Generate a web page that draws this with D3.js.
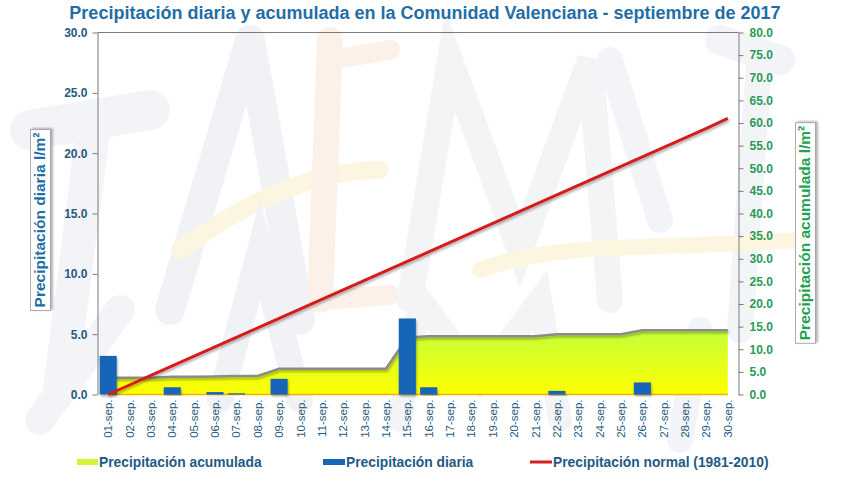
<!DOCTYPE html>
<html><head><meta charset="utf-8">
<script src="https://cdn.jsdelivr.net/npm/d3@7"></script>
<style>
body{margin:0;background:#fff;}
svg{display:block;font-family:"Liberation Sans",Arial,sans-serif;}
</style></head>
<body>
<svg id="c" width="856" height="480"></svg>
<script>
const days = ["01-sep.","02-sep.","03-sep.","04-sep.","05-sep.","06-sep.","07-sep.","08-sep.","09-sep.","10-sep.",
"11-sep.","12-sep.","13-sep.","14-sep.","15-sep.","16-sep.","17-sep.","18-sep.","19-sep.","20-sep.",
"21-sep.","22-sep.","23-sep.","24-sep.","25-sep.","26-sep.","27-sep.","28-sep.","29-sep.","30-sep."];
const daily = [3.2,0,0,0.6,0,0.2,0.1,0,1.3,0,0,0,0,0,6.3,0.6,0,0,0,0,0,0.3,0,0,0,1.0,0,0,0,0];
const accum = [3.7,3.7,3.7,3.9,3.9,4.0,4.1,4.1,5.7,5.7,5.7,5.7,5.7,5.7,12.6,12.9,12.9,12.9,12.9,12.9,12.9,13.3,13.3,13.3,13.3,14.2,14.2,14.2,14.2,14.2];
const normal = [0,2.1,4.2,6.3,8.4,10.5,12.6,14.7,16.8,18.9,21.0,23.1,25.2,27.3,29.4,31.5,33.6,35.7,37.8,39.9,42.0,44.1,46.2,48.3,50.4,52.5,54.6,56.7,58.8,61.0];
const leftTicks = [0,5,10,15,20,25,30];
const rightTicks = [0,5,10,15,20,25,30,35,40,45,50,55,60,65,70,75,80];

const svg = d3.select("#c");
const L = 97.5, R = 738.5, T = 32.5, B = 394.5;

// faint watermark strokes (logo background)
const wm = svg.append("g").attr("fill","none").attr("stroke-linecap","round").attr("opacity",0.6);
const wmStrokes = [
  ["M30,130 L150,110","#eceef2",40],["M95,115 L60,390","#eceef2",34],
  ["M170,310 L250,40","#e8ebf0",30],["M250,40 L300,320","#e8ebf0",30],
  ["M180,250 C260,190 330,170 380,170","#fbf1cc",18],
  ["M330,40 L320,300","#fae8da",26],["M330,60 L390,50","#fae8da",20],["M325,300 L390,295","#fae8da",20],
  ["M410,300 L450,60 L520,250 L590,60 L610,300","#eaedf1",26],
  ["M610,60 L660,220","#eceef2",26],["M720,40 L780,60","#eceef2",30],["M760,50 L740,330","#eceef2",26],
  ["M40,420 L120,310","#eceef2",30],["M220,400 L260,250 L300,400","#e8ebf0",26],
  ["M400,420 L420,300 L480,380 L540,300 L560,420","#eaedf1",24],["M700,330 L680,440","#eceef2",26],
  ["M480,270 C560,240 660,250 800,240","#fbf1cc",16]
];
wm.selectAll("path").data(wmStrokes).join("path")
  .attr("d",d=>d[0]).attr("stroke",d=>d[1]).attr("stroke-width",d=>d[2]);

const defs = svg.append("defs");
const grad = defs.append("linearGradient").attr("id","g").attr("x1",0).attr("y1",0).attr("x2",0).attr("y2",1);
grad.append("stop").attr("offset","0%").attr("stop-color","#c4ff3a");
grad.append("stop").attr("offset","100%").attr("stop-color","#ffff00");
const sh = defs.append("filter").attr("id","sh").attr("x","-10%").attr("y","-10%").attr("width","130%").attr("height","130%");
sh.append("feDropShadow").attr("dx",1).attr("dy",2).attr("stdDeviation",1).attr("flood-color","#000").attr("flood-opacity",0.3);

const x = d3.scaleBand().domain(days).range([L,R]).paddingInner(0.2).paddingOuter(0.1);
const xc = d => x(d) + x.bandwidth()/2;
const yL = d3.scaleLinear().domain([0,30]).range([B,T]);
const yR = d3.scaleLinear().domain([0,80]).range([B,T]);

// area accumulated
const area = d3.area().x((d,i)=>xc(days[i])).y0(yR(0)).y1(d=>yR(d));
svg.append("path").datum(accum).attr("d",area).attr("fill","url(#g)");
const line = d3.line().x((d,i)=>xc(days[i])).y(d=>yR(d));
svg.append("path").datum(accum).attr("d",line).attr("fill","none").attr("stroke","#8c8c86").attr("stroke-width",2.5).attr("filter","url(#sh)");
svg.append("line").attr("x1",xc(days[0])).attr("x2",xc(days[29])).attr("y1",B).attr("y2",B).attr("stroke","#f0b400").attr("stroke-width",1.5);

// bars
svg.append("g").selectAll("rect").data(daily).join("rect")
  .attr("x",(d,i)=>x(days[i])).attr("width",x.bandwidth())
  .attr("y",d=>yL(d)).attr("height",d=>B-yL(d))
  .attr("fill","#1665b8").attr("filter","url(#sh)");

// normal line
svg.append("path").datum(normal).attr("d",line).attr("fill","none").attr("stroke","#d41f1f").attr("stroke-width",3).attr("filter","url(#sh)");

// axes
svg.append("line").attr("x1",L).attr("x2",R).attr("y1",T).attr("y2",T).attr("stroke","#7a7a7a");
const ax = svg.append("g").attr("transform",`translate(${L},0)`)
  .call(d3.axisLeft(yL).tickValues(leftTicks).tickFormat(d3.format(".1f")).tickSize(5).tickSizeOuter(0));
ax.select(".domain").attr("stroke","#7a7a7a");
ax.selectAll("line").attr("stroke","#7a7a7a");
ax.selectAll("text").attr("fill","#245b80").attr("font-size",12).attr("font-weight","bold").attr("x",-10).attr("font-family","Liberation Sans, Arial");

const ar = svg.append("g").attr("transform",`translate(${R},0)`)
  .call(d3.axisRight(yR).tickValues(rightTicks).tickFormat(d3.format(".1f")).tickSize(5).tickSizeOuter(0));
ar.select(".domain").attr("stroke","#7a7a7a");
ar.selectAll("line").attr("stroke","#7a7a7a");
ar.selectAll("text").attr("fill","#2a9a58").attr("font-size",12).attr("font-weight","bold").attr("x",11).attr("font-family","Liberation Sans, Arial");

const axb = svg.append("g").attr("transform",`translate(0,${B})`)
  .call(d3.axisBottom(x).tickSize(0));
axb.select(".domain").remove();
axb.selectAll("text").attr("fill","#245b80").attr("font-size",11.5).attr("font-family","Liberation Sans, Arial")
  .attr("transform","rotate(-90)").attr("text-anchor","end").attr("x",-5).attr("y",0).attr("dy","0.35em");

// title
svg.append("text").attr("x",425).attr("y",19).attr("text-anchor","middle")
  .attr("font-size",18).attr("font-weight","bold").attr("fill","#1f6ea6")
  .text("Precipitación diaria y acumulada en la Comunidad Valenciana - septiembre de 2017");

// axis titles with boxes
function vtitle(cx, cy, txt, color, fs){
  const g = svg.append("g").attr("transform",`translate(${cx},${cy}) rotate(-90)`);
  const t = g.append("text").attr("text-anchor","middle").attr("dy","0.35em")
    .attr("font-size",fs).attr("font-weight","bold").attr("fill",color).text(txt);
  const bb = t.node().getBBox();
  g.insert("rect","text").attr("x",bb.x-3).attr("y",bb.y-1).attr("width",bb.width+6).attr("height",bb.height+3)
    .attr("fill","#fff").attr("stroke","#9a9a9a").attr("stroke-width",0.8).attr("filter","url(#sh)");
}
vtitle(40, 220, "Precipitación diaria l/m²", "#1f6ea6", 15.5);
vtitle(805, 233, "Precipitación acumulada l/m²", "#22a24e", 15.5);

// legend
const lg = svg.append("g").attr("font-size",13.8).attr("font-weight","bold").attr("fill","#1f5a86");
lg.append("rect").attr("x",77).attr("y",459).attr("width",21).attr("height",6).attr("fill","#d2f53a");
lg.append("text").attr("x",99).attr("y",467).text("Precipitación acumulada");
lg.append("rect").attr("x",323).attr("y",459).attr("width",22).attr("height",6).attr("fill","#1665b8");
lg.append("text").attr("x",346).attr("y",467).text("Precipitación diaria");
lg.append("rect").attr("x",530).attr("y",460.5).attr("width",22).attr("height",3).attr("fill","#d41f1f");
lg.append("text").attr("x",553).attr("y",467).text("Precipitación normal (1981-2010)");
</script>
</body></html>
